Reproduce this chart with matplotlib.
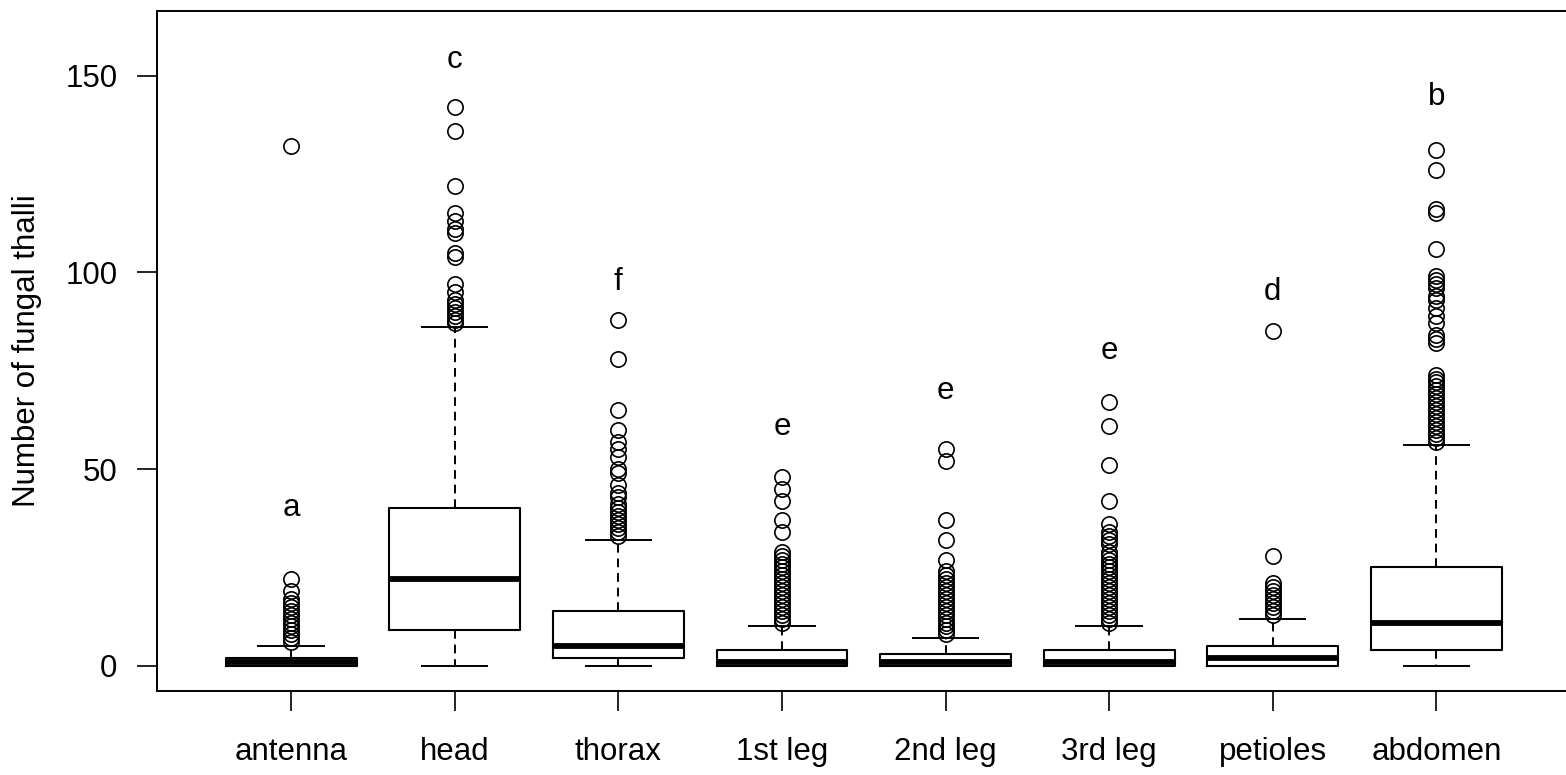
import numpy as np
import matplotlib
matplotlib.use('Agg')
import matplotlib.pyplot as plt

plt.rcParams['font.family'] = ['Liberation Sans', 'DejaVu Sans']

# body parts and the box statistics
parts = ['antenna', 'head', 'thorax', '1st leg', '2nd leg', '3rd leg', 'petioles', 'abdomen']
q1 = [0, 9, 2, 0, 0, 0, 0, 4]
median = [1, 22, 5, 1, 1, 1, 2, 11]
q3 = [2, 40, 14, 4, 3, 4, 5, 25]
whisker_lo = [0, 0, 0, 0, 0, 0, 0, 0]
whisker_hi = [5, 86, 32, 10, 7, 10, 12, 56]

outliers = [
    [6, 7, 8, 9, 10, 11, 12, 13, 14, 15, 16, 17, 19, 22, 132],
    [87, 88, 89, 90, 91, 92, 93, 95, 97, 104, 105, 110, 111, 113, 115, 122, 136, 142],
    [33, 34, 35, 36, 37, 38, 39, 40, 41, 43, 44, 46, 49, 50, 53, 55, 57, 60, 65, 78, 88],
    [11, 12, 13, 14, 15, 16, 17, 18, 19, 20, 21, 22, 23, 24, 25, 26, 27, 28, 29,
     34, 37, 42, 45, 48],
    [8, 9, 10, 11, 12, 13, 14, 15, 16, 17, 18, 19, 20, 21, 22, 23, 24, 27, 32, 37, 52, 55],
    [11, 12, 13, 14, 15, 16, 17, 18, 19, 20, 21, 22, 23, 24, 25, 26, 27, 28, 29, 31,
     32, 33, 34, 36, 42, 51, 61, 67],
    [13, 14, 15, 16, 17, 18, 19, 20, 21, 28, 85],
    [57, 58, 59, 60, 61, 62, 63, 64, 65, 66, 67, 68, 69, 70, 71, 72, 73, 74,
     82, 83, 84, 87, 89, 91, 93, 94, 96, 97, 98, 99, 106, 115, 116, 126, 131],
]

letters = ['a', 'c', 'f', 'e', 'e', 'e', 'd', 'b']
letter_y = [40, 154, 97.5, 60.7, 69.8, 80, 95, 144.5]

stats = []
for i in range(len(parts)):
    stats.append(dict(label=parts[i], q1=q1[i], med=median[i], q3=q3[i],
                      whislo=whisker_lo[i], whishi=whisker_hi[i],
                      fliers=np.array(outliers[i])))

fs = 22.5
fig = plt.figure(figsize=(15.66, 7.75), dpi=100)
ax = fig.add_axes([157/1566, 1-691/775, 1413.5/1566, 680/775])

pos = np.arange(1, len(parts) + 1)
ax.bxp(stats, positions=pos, widths=0.8, capwidths=0.4, manage_ticks=False,
       boxprops=dict(color='black', linewidth=1.5),
       medianprops=dict(color='black', linewidth=4.2, solid_capstyle='butt'),
       whiskerprops=dict(color='black', linewidth=1.4, linestyle=(0, (4.5, 3))),
       capprops=dict(color='black', linewidth=1.4),
       flierprops=dict(marker='o', markerfacecolor='none', markeredgecolor='black',
                       markersize=11, markeredgewidth=1.2))

for i in range(len(parts)):
    ax.text(pos[i], letter_y[i], letters[i], ha='center', va='center', fontsize=fs)

ax.set_xlim(0.18, 8.82)
ax.set_ylim(-6.4, 166.4)
ax.set_xticks(pos)
ax.set_xticklabels(parts)
ax.set_yticks([0, 50, 100, 150])
ax.tick_params(axis='both', length=14.4, width=1.2, labelsize=fs, direction='out')
ax.tick_params(axis='x', pad=18.5)
ax.tick_params(axis='y', pad=14)
for s in ax.spines.values():
    s.set_linewidth(1.4)
ax.set_ylabel('Number of fungal thalli', fontsize=fs, labelpad=17)

fig.savefig('out.png', dpi=100)
